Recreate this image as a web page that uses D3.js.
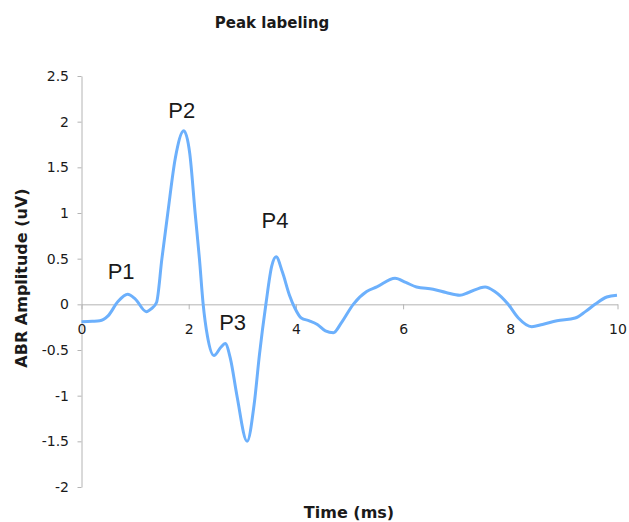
<!DOCTYPE html>
<html>
<head>
<meta charset="utf-8">
<script src="https://cdn.jsdelivr.net/npm/d3@7"></script>
<style>
  body { margin: 0; background: #fff; }
  svg text { font-family: 'DejaVu Sans', Verdana, sans-serif; fill: #1a1a1a; }
  .axis path, .axis line { stroke: #b4b4b4; }
  .peak { font-family: 'Liberation Sans', Arial, sans-serif !important; }
</style>
</head>
<body>
<div id="chart"></div>
<script>
// ABR trace, time in ms
const timeMs = [0, 0.2, 0.34, 0.49, 0.68, 0.86, 1.0, 1.21, 1.3, 1.4, 1.5, 1.61, 1.75, 1.91,
  2.02, 2.12, 2.2, 2.27, 2.35, 2.47, 2.6, 2.68, 2.78, 2.9, 3.09, 3.22, 3.32, 3.44, 3.55,
  3.63, 3.75, 3.88, 3.98, 4.1, 4.25, 4.4, 4.55, 4.7, 4.85, 5.07, 5.32, 5.51, 5.85, 6.05,
  6.25, 6.56, 6.8, 7.06, 7.22, 7.53, 7.71, 7.96, 8.15, 8.4, 8.6, 8.87, 9.21, 9.4, 9.58,
  9.8, 9.99]
const amplitude = [-0.19, -0.185, -0.18, -0.13, 0.03, 0.11, 0.06, -0.08, -0.05, 0.02, 0.5,
  1.0, 1.6, 1.9, 1.65, 1.0, 0.5, 0, -0.35, -0.56, -0.47, -0.43, -0.6, -1.0, -1.5, -1.1,
  -0.55, 0, 0.42, 0.52, 0.35, 0.1, -0.04, -0.15, -0.18, -0.22, -0.29, -0.31, -0.2, 0,
  0.14, 0.19, 0.285, 0.24, 0.19, 0.165, 0.13, 0.1, 0.13, 0.19, 0.14, 0, -0.15, -0.245,
  -0.22, -0.18, -0.15, -0.08, 0, 0.08, 0.1]

const peakNames = ['P1', 'P2', 'P3', 'P4']
const peakTime = [0.74, 1.87, 2.82, 3.61]
const peakAmp = [0.28, 2.04, -0.28, 0.84]

const xTicks = [0, 2, 4, 6, 8, 10]
const yTicks = [-2, -1.5, -1, -0.5, 0, 0.5, 1, 1.5, 2, 2.5]

const W = 629, H = 522
const svg = d3.select('#chart').append('svg')
  .attr('width', W)
  .attr('height', H)

const x = d3.scaleLinear().domain([0, 10]).range([81.5, 617.5])
const y = d3.scaleLinear().domain([-2, 2.5]).range([487, 76])

// plain hyphen for negatives, like the original
const fmt = d => String(d)

// y axis
const yAxis = svg.append('g')
  .attr('class', 'axis')
  .attr('transform', 'translate(81.5,0)')
  .call(d3.axisLeft(y).tickValues(yTicks).tickSize(4).tickSizeOuter(0).tickPadding(8.5)
    .tickFormat(fmt))
yAxis.selectAll('text').style('font-size', '14px')

// x axis along zero
const xAxis = svg.append('g')
  .attr('class', 'axis')
  .attr('transform', `translate(0,${y(0)})`)
  .call(d3.axisBottom(x).tickValues(xTicks).tickSize(5).tickSizeOuter(0).tickPadding(14.8)
    .tickFormat(fmt))
xAxis.selectAll('text').style('font-size', '14px')

// trace
const line = d3.line()
  .x(d => x(d[0]))
  .y(d => y(d[1]))
  .curve(d3.curveMonotoneX)

svg.append('path')
  .datum(timeMs.map((t, i) => [t, amplitude[i]]))
  .attr('d', line)
  .attr('fill', 'none')
  .attr('stroke', '#6cb0fc')
  .attr('stroke-width', 3)
  .attr('stroke-linejoin', 'round')

// peak labels
svg.selectAll('.peak')
  .data(peakNames)
  .enter()
  .append('text')
  .attr('class', 'peak')
  .attr('x', (d, i) => x(peakTime[i]))
  .attr('y', (d, i) => y(peakAmp[i]))
  .attr('text-anchor', 'middle')
  .style('font-size', '22px')
  .text(d => d)

// titles
svg.append('text')
  .attr('x', 272)
  .attr('y', 28)
  .attr('text-anchor', 'middle')
  .style('font-size', '15px')
  .style('font-weight', 'bold')
  .text('Peak labeling')

svg.append('text')
  .attr('transform', 'translate(27,278) rotate(-90)')
  .attr('text-anchor', 'middle')
  .style('font-size', '16px')
  .style('font-weight', 'bold')
  .text('ABR Amplitude (uV)')

svg.append('text')
  .attr('x', 349)
  .attr('y', 518)
  .attr('text-anchor', 'middle')
  .style('font-size', '16px')
  .style('font-weight', 'bold')
  .text('Time (ms)')
</script>
</body>
</html>
